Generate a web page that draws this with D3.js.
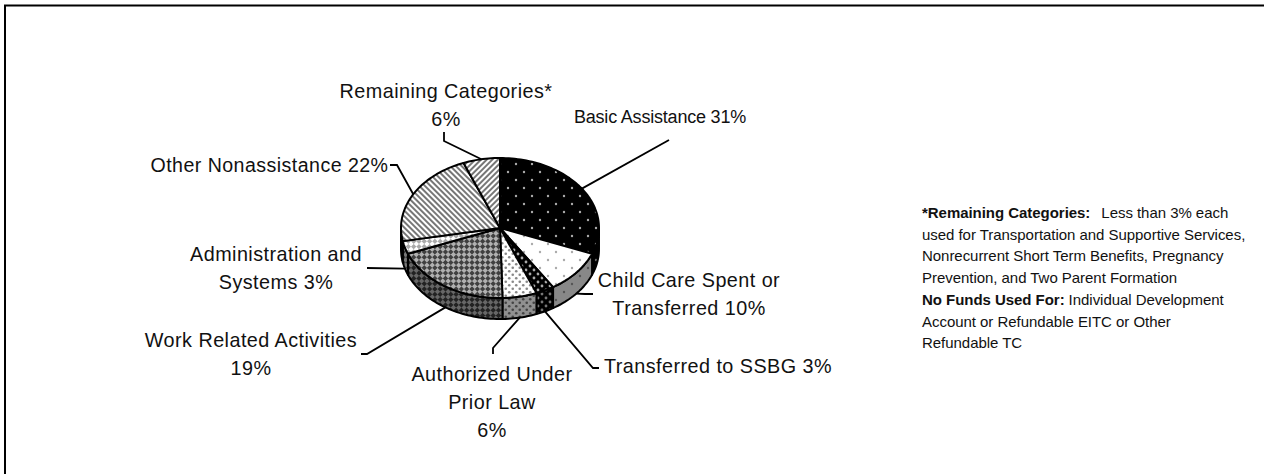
<!DOCTYPE html>
<html>
<head>
<meta charset="utf-8">
<script src="https://cdn.jsdelivr.net/npm/d3@7"></script>
<style>
  html, body { margin: 0; padding: 0; background: #fff; }
  svg { display: block; }
  text { font-family: "Liberation Sans", Arial, sans-serif; fill: #111; }
</style>
</head>
<body>
<div id="chart"></div>
<script>
// values (labels are the rounded ones)
const categories = ["Basic Assistance", "Child Care", "Transferred to SSBG", "Authorized Under Prior Law",
  "Work Related Activities", "Administration and Systems", "Other Nonassistance", "Remaining Categories"];
const values = [31, 10, 3, 5.6, 19.4, 3, 22, 6];
const labelLines = [
  ["Basic Assistance 31%"],
  ["Child Care Spent or", "Transferred 10%"],
  ["Transferred to SSBG 3%"],
  ["Authorized Under", "Prior Law", "6%"],
  ["Work Related Activities", "19%"],
  ["Administration and", "Systems 3%"],
  ["Other Nonassistance 22%"],
  ["Remaining Categories*", "6%"]
];
const noteLines = [
  [["*Remaining Categories:", true], ["Less than 3% each", false, 11]],
  [["used for Transportation and Supportive Services,", false]],
  [["Nonrecurrent Short Term Benefits, Pregnancy", false]],
  [["Prevention, and Two Parent Formation", false]],
  [["No Funds Used For:", true], ["Individual Development", false, 4]],
  [["Account or Refundable EITC or Other", false]],
  [["Refundable TC", false]]
];

// layout
const width = 1264, height = 474;
const cx = 500, cy = 228, rx = 99, ry = 70, depth = 21;
const labelX = [660, 689, 718, 492, 251, 276, 269.5, 446];
const labelY = [123, 287, 373, 381, 347, 261, 172, 98];
const labelSize = [18, 19.8, 19.8, 19.8, 19.8, 19.8, 19.6, 19.8];
const labelTrack = [-0.2, 0.45, 0.45, 0.45, 0.45, 0.45, 0.45, 0.45];
const lineStep = 28;
// leader elbows, in slice order
const elbows = [
  [[669, 140]],
  [[585, 294], [593, 294]],
  [[593, 368], [599, 368]],
  [[493, 348], [493, 354]],
  [[367, 354], [361, 354]],
  [[367, 268]],
  [[397, 165], [390, 165]],
  [[444, 141], [444, 132]]
];

const x = d3.scaleLinear().domain([-1, 1]).range([cx - rx, cx + rx]);
const y = d3.scaleLinear().domain([-1, 1]).range([cy - ry, cy + ry]);
const project = (a, drop = 0) => [x(Math.sin(a)), y(-Math.cos(a)) + drop];

const svg = d3.select("#chart").append("svg").attr("width", width).attr("height", height);
const defs = svg.append("defs");

// hatch fills, one for the top face and one for the wall of each slice
function dotPattern(id, bg, dot, size, r) {
  const p = defs.append("pattern").attr("id", id).attr("patternUnits", "userSpaceOnUse")
    .attr("width", size).attr("height", size);
  p.append("rect").attr("width", size).attr("height", size).attr("fill", bg);
  [[size / 4, size / 4], [size * 3 / 4, size * 3 / 4]].forEach(c =>
    p.append("circle").attr("cx", c[0]).attr("cy", c[1]).attr("r", r).attr("fill", dot));
}
function stripePattern(id, angle, a, b, size) {
  const p = defs.append("pattern").attr("id", id).attr("patternUnits", "userSpaceOnUse")
    .attr("width", size).attr("height", size)
    .attr("patternTransform", `rotate(${angle})`);
  p.append("rect").attr("width", size).attr("height", size).attr("fill", a);
  p.append("rect").attr("width", size / 2).attr("height", size).attr("fill", b);
}
function checkPattern(id, a, b, size) {
  const p = defs.append("pattern").attr("id", id).attr("patternUnits", "userSpaceOnUse")
    .attr("width", size).attr("height", size)
    .attr("patternTransform", "rotate(45)");
  p.append("rect").attr("width", size).attr("height", size).attr("fill", a);
  p.append("rect").attr("width", size / 2).attr("height", size / 2).attr("fill", b);
  p.append("rect").attr("x", size / 2).attr("y", size / 2).attr("width", size / 2).attr("height", size / 2).attr("fill", b);
}

dotPattern("top0", "#000", "#aaa", 16, 1.2);
dotPattern("top1", "#fff", "#aaa", 16, 1.2);
dotPattern("top2", "#000", "#aaa", 8, 1.4);
dotPattern("top3", "#fff", "#888", 7, 1.3);
checkPattern("top4", "#b0b0b0", "#404040", 7.5);
checkPattern("top5", "#fff", "#aaa", 7.5);
stripePattern("top6", -45, "#fff", "#777", 4);
stripePattern("top7", 45, "#fff", "#777", 4);

dotPattern("wall0", "#000", "#666", 16, 1.2);
dotPattern("wall1", "#888", "#555", 16, 1.2);
dotPattern("wall2", "#000", "#777", 8, 1.4);
dotPattern("wall3", "#909090", "#444", 7, 1.3);
checkPattern("wall4", "#666", "#222", 7.5);
checkPattern("wall5", "#777", "#333", 7.5);
stripePattern("wall6", -45, "#888", "#333", 4);
stripePattern("wall7", 45, "#888", "#333", 4);

// frame, only top and left are drawn in the original
svg.append("path")
  .attr("d", d3.line()([[5, height], [5, 5.5], [width, 5.5]]))
  .attr("fill", "none").attr("stroke", "#000").attr("stroke-width", 2);

const pie = d3.pie().sort(null).startAngle(0).endAngle(2 * Math.PI);
const slices = pie(values);
const line = d3.line();

function arcPoints(a0, a1, drop) {
  const n = Math.max(2, Math.ceil((a1 - a0) / 0.03));
  return d3.range(n + 1).map(i => project(a0 + (a1 - a0) * i / n, drop));
}

// side walls, only the front half of the disc shows
const pieG = svg.append("g").attr("stroke", "#000").attr("stroke-width", 2).attr("stroke-linejoin", "round");
slices.forEach((s, i) => {
  const a0 = Math.max(s.startAngle, Math.PI / 2);
  const a1 = Math.min(s.endAngle, 3 * Math.PI / 2);
  if (a1 <= a0) return;
  const pts = arcPoints(a0, a1, 0).concat(arcPoints(a0, a1, depth).reverse());
  pieG.append("path").attr("d", line(pts) + "Z").attr("fill", `url(#wall${i})`);
});

// top faces
slices.forEach((s, i) => {
  const pts = [[x(0), y(0)]].concat(arcPoints(s.startAngle, s.endAngle, 0));
  pieG.append("path").attr("d", line(pts) + "Z").attr("fill", `url(#top${i})`);
});

// leaders start at the middle of each slice's rim
slices.forEach((s, i) => {
  const mid = (s.startAngle + s.endAngle) / 2;
  const onWall = mid > Math.PI / 2 && mid < 3 * Math.PI / 2;
  const pts = [project(mid, onWall ? depth : 0)].concat(elbows[i]);
  svg.append("path").attr("d", line(pts))
    .attr("fill", "none").attr("stroke", "#000").attr("stroke-width", 1.8);
});

// labels
labelLines.forEach((lines, i) => {
  lines.forEach((t, j) => {
    svg.append("text")
      .attr("x", labelX[i]).attr("y", labelY[i] + j * lineStep)
      .attr("text-anchor", "middle")
      .attr("font-size", labelSize[i])
      .attr("letter-spacing", labelTrack[i])
      .text(t);
  });
});

// footnote
const note = svg.append("text").attr("font-size", 15).attr("letter-spacing", -0.04);
noteLines.forEach((runs, j) => {
  runs.forEach((r, k) => {
    const span = note.append("tspan").attr("font-weight", r[1] ? "bold" : null).text(r[0]);
    if (k === 0) span.attr("x", 922).attr("y", 218 + j * 21.7);
    else span.attr("dx", r[2]);
  });
});
</script>
</body>
</html>
